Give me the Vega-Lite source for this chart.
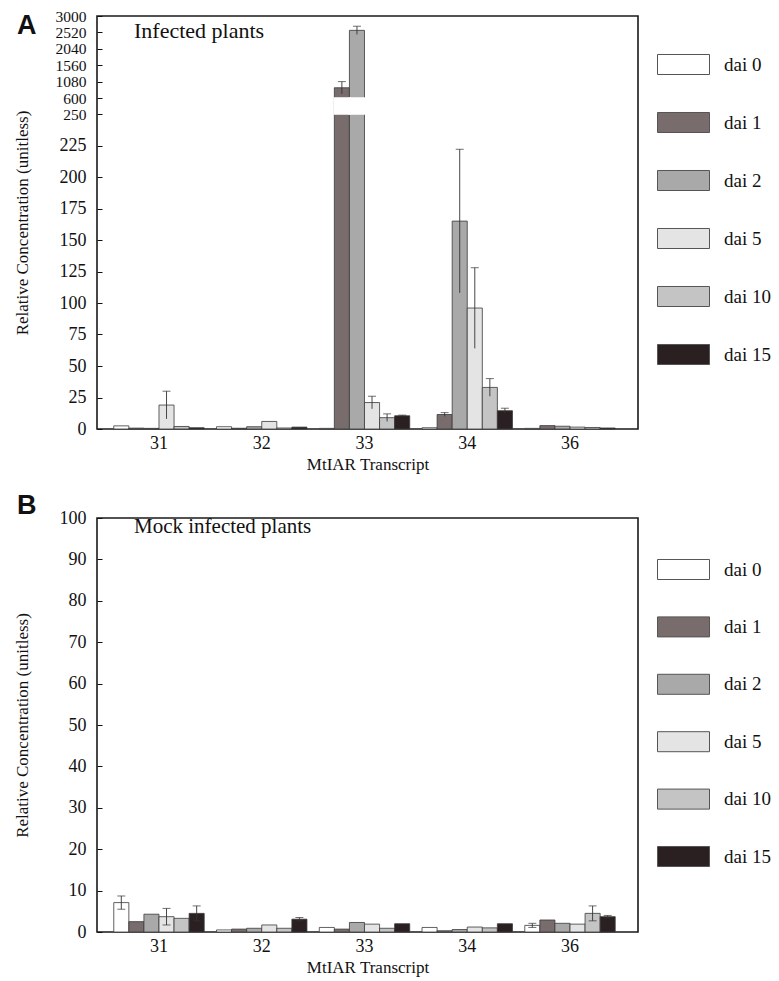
{
  "$schema": "https://vega.github.io/schema/vega-lite/v6.json",
  "padding": {"left": 12, "top": 8, "right": 5, "bottom": 5},
  "background": "white",
  "config": {
    "font": "Liberation Serif",
    "view": {"stroke": "#1a1a1a", "strokeWidth": 1.6},
    "axis": {"labelFont": "Liberation Serif", "titleFont": "Liberation Serif", "labelFontSize": 18, "titleFontSize": 17, "titleFontWeight": "normal", "labelColor": "#111", "titleColor": "#111", "domain": false, "grid": false, "tickColor": "#111"},
    "axisY": {"offset": -5, "tickSize": 5, "tickWidth": 1, "labelPadding": 11, "minExtent": 48, "maxExtent": 48, "titlePadding": 23, "labelOverlap": false, "labelBound": false, "labelFlush": false, "format": "d", "tickCount": 40},
    "axisX": {"ticks": false, "labelAngle": 0, "labelPadding": 5, "titlePadding": 4},
    "legend": {"orient": "none", "title": null, "symbolType": "M-1,-0.385H1V0.385H-1Z", "symbolSize": 2704, "symbolStrokeColor": "#555", "symbolStrokeWidth": 1, "labelFont": "Liberation Serif", "labelFontSize": 19, "labelColor": "#111", "labelOffset": 14, "padding": 0, "symbolOpacity": 1}
  },
  "datasets": {
    "a": [
      {"t": "31", "dai": "dai 0", "value": 2.5},
      {"t": "31", "dai": "dai 1", "value": 0.7},
      {"t": "31", "dai": "dai 2", "value": 0.5},
      {"t": "31", "dai": "dai 5", "value": 19, "lo": 8, "hi": 30},
      {"t": "31", "dai": "dai 10", "value": 2.0},
      {"t": "31", "dai": "dai 15", "value": 1.0},
      {"t": "32", "dai": "dai 0", "value": 1.8},
      {"t": "32", "dai": "dai 1", "value": 0.6},
      {"t": "32", "dai": "dai 2", "value": 1.8},
      {"t": "32", "dai": "dai 5", "value": 6.0},
      {"t": "32", "dai": "dai 10", "value": 0.8},
      {"t": "32", "dai": "dai 15", "value": 1.5},
      {"t": "33", "dai": "dai 0", "value": 0.5},
      {"t": "33", "dai": "dai 1", "value": 900, "lo": 720, "hi": 1080},
      {"t": "33", "dai": "dai 2", "value": 2580, "lo": 2460, "hi": 2700},
      {"t": "33", "dai": "dai 5", "value": 21, "lo": 16, "hi": 26},
      {"t": "33", "dai": "dai 10", "value": 9, "lo": 6, "hi": 12},
      {"t": "33", "dai": "dai 15", "value": 10.5, "lo": 10, "hi": 11},
      {"t": "34", "dai": "dai 0", "value": 1.0},
      {"t": "34", "dai": "dai 1", "value": 11.5, "lo": 10, "hi": 13},
      {"t": "34", "dai": "dai 2", "value": 165, "lo": 108, "hi": 222},
      {"t": "34", "dai": "dai 5", "value": 96, "lo": 64, "hi": 128},
      {"t": "34", "dai": "dai 10", "value": 33, "lo": 26, "hi": 40},
      {"t": "34", "dai": "dai 15", "value": 14.5, "lo": 12.5, "hi": 16.5},
      {"t": "36", "dai": "dai 0", "value": 0.5},
      {"t": "36", "dai": "dai 1", "value": 2.7},
      {"t": "36", "dai": "dai 2", "value": 2.2},
      {"t": "36", "dai": "dai 5", "value": 1.5},
      {"t": "36", "dai": "dai 10", "value": 1.2},
      {"t": "36", "dai": "dai 15", "value": 0.8}
    ],
    "b": [
      {"t": "31", "dai": "dai 0", "value": 7.1, "lo": 5.5, "hi": 8.7},
      {"t": "31", "dai": "dai 1", "value": 2.5},
      {"t": "31", "dai": "dai 2", "value": 4.3},
      {"t": "31", "dai": "dai 5", "value": 3.7, "lo": 1.7, "hi": 5.7},
      {"t": "31", "dai": "dai 10", "value": 3.3},
      {"t": "31", "dai": "dai 15", "value": 4.5, "lo": 2.7, "hi": 6.3},
      {"t": "32", "dai": "dai 0", "value": 0.5},
      {"t": "32", "dai": "dai 1", "value": 0.7},
      {"t": "32", "dai": "dai 2", "value": 0.9},
      {"t": "32", "dai": "dai 5", "value": 1.7},
      {"t": "32", "dai": "dai 10", "value": 0.9},
      {"t": "32", "dai": "dai 15", "value": 3.1, "lo": 2.7, "hi": 3.5},
      {"t": "33", "dai": "dai 0", "value": 1.1},
      {"t": "33", "dai": "dai 1", "value": 0.7},
      {"t": "33", "dai": "dai 2", "value": 2.3},
      {"t": "33", "dai": "dai 5", "value": 1.9},
      {"t": "33", "dai": "dai 10", "value": 0.9},
      {"t": "33", "dai": "dai 15", "value": 2.0},
      {"t": "34", "dai": "dai 0", "value": 1.1},
      {"t": "34", "dai": "dai 1", "value": 0.3},
      {"t": "34", "dai": "dai 2", "value": 0.6},
      {"t": "34", "dai": "dai 5", "value": 1.2},
      {"t": "34", "dai": "dai 10", "value": 1.0},
      {"t": "34", "dai": "dai 15", "value": 2.0},
      {"t": "36", "dai": "dai 0", "value": 1.6, "lo": 1.1, "hi": 2.1},
      {"t": "36", "dai": "dai 1", "value": 2.9},
      {"t": "36", "dai": "dai 2", "value": 2.1},
      {"t": "36", "dai": "dai 5", "value": 1.9},
      {"t": "36", "dai": "dai 10", "value": 4.5, "lo": 2.7, "hi": 6.3},
      {"t": "36", "dai": "dai 15", "value": 3.7, "lo": 3.4, "hi": 4.0}
    ]
  },
  "vconcat": [
    {
      "width": 541,
      "height": 413,
      "title": {"text": "A", "anchor": "start", "frame": "bounds", "font": "Liberation Sans", "fontWeight": "bold", "fontSize": 27, "offset": -31, "dx": 4, "color": "#111"},
      "data": {"name": "a"},
      "layer": [
        {
          "mark": {"type": "bar", "stroke": "#3a3a3a", "strokeWidth": 0.8},
          "encoding": {
            "x": {"field": "t", "type": "nominal", "scale": {"paddingInner": 0.12, "paddingOuter": 0.1925, "align": 0.424}, "axis": {"title": "MtIAR Transcript"}},
            "xOffset": {"field": "dai", "type": "nominal", "sort": ["dai 0", "dai 1", "dai 2", "dai 5", "dai 10", "dai 15"], "scale": {"paddingInner": 0, "paddingOuter": 0}},
            "y": {"field": "value", "type": "quantitative", "scale": {"domain": [0, 250, 600, 3000], "range": [413, 98, 82, 0], "nice": false, "zero": false}, "axis": {"title": "Relative Concentration (unitless)", "labelOverlap": false, "tickCount": 40, "format": "d", "labelFontSize": {"condition": {"test": "datum.value >= 250", "value": 15.5}, "value": 18}, "values": [0, 25, 50, 75, 100, 125, 150, 175, 200, 225, 250, 600, 1080, 1560, 2040, 2520, 3000]}},
            "color": {"field": "dai", "type": "nominal", "sort": ["dai 0", "dai 1", "dai 2", "dai 5", "dai 10", "dai 15"], "scale": {"domain": ["dai 0", "dai 1", "dai 2", "dai 5", "dai 10", "dai 15"], "range": ["#ffffff", "#786c6d", "#a9a9a9", "#e4e4e4", "#c4c4c4", "#2a2021"]}, "legend": {"legendX": 560, "legendY": 22, "rowPadding": 19}}
          }
        },
        {
          "transform": [{"filter": "datum.value > 250"}],
          "mark": {"type": "bar", "color": "white", "stroke": "white", "strokeWidth": 1.5},
          "encoding": {
            "x": {"field": "t", "type": "nominal"},
            "xOffset": {"field": "dai", "type": "nominal", "sort": ["dai 0", "dai 1", "dai 2", "dai 5", "dai 10", "dai 15"]},
            "y": {"datum": 600},
            "y2": {"datum": 250}
          }
        },
        {
          "transform": [{"filter": "isValid(datum.hi)"}],
          "mark": {"type": "rule", "color": "#333", "strokeWidth": 0.9},
          "encoding": {
            "x": {"field": "t", "type": "nominal"},
            "xOffset": {"field": "dai", "type": "nominal", "sort": ["dai 0", "dai 1", "dai 2", "dai 5", "dai 10", "dai 15"]},
            "y": {"field": "lo", "type": "quantitative"},
            "y2": {"field": "hi"}
          }
        },
        {
          "transform": [{"filter": "isValid(datum.hi)"}],
          "mark": {"type": "tick", "color": "#333", "thickness": 1, "size": 8},
          "encoding": {
            "x": {"field": "t", "type": "nominal"},
            "xOffset": {"field": "dai", "type": "nominal", "sort": ["dai 0", "dai 1", "dai 2", "dai 5", "dai 10", "dai 15"]},
            "y": {"field": "hi", "type": "quantitative"}
          }
        },
        {
          "data": {"values": [{"label": "Infected plants"}]},
          "mark": {"type": "text", "align": "left", "baseline": "middle", "font": "Liberation Serif", "fontSize": 22, "dx": -25, "color": "#111"},
          "encoding": {
            "x": {"datum": "31"},
            "y": {"datum": 2560},
            "text": {"field": "label"}
          }
        }
      ]
    },
    {
      "width": 541,
      "height": 414,
      "title": {"text": "B", "anchor": "start", "frame": "bounds", "font": "Liberation Sans", "fontWeight": "bold", "fontSize": 27, "offset": -11, "dx": 4, "color": "#111"},
      "data": {"name": "b"},
      "layer": [
        {
          "mark": {"type": "bar", "stroke": "#3a3a3a", "strokeWidth": 0.8},
          "encoding": {
            "x": {"field": "t", "type": "nominal", "scale": {"paddingInner": 0.12, "paddingOuter": 0.1925, "align": 0.424}, "axis": {"title": "MtIAR Transcript"}},
            "xOffset": {"field": "dai", "type": "nominal", "sort": ["dai 0", "dai 1", "dai 2", "dai 5", "dai 10", "dai 15"], "scale": {"paddingInner": 0, "paddingOuter": 0}},
            "y": {"field": "value", "type": "quantitative", "scale": {"domain": [0, 100], "nice": false, "zero": true}, "axis": {"title": "Relative Concentration (unitless)", "labelOverlap": false, "tickCount": 40, "format": "d", "values": [0, 10, 20, 30, 40, 50, 60, 70, 80, 90, 100]}},
            "color": {"field": "dai", "type": "nominal", "sort": ["dai 0", "dai 1", "dai 2", "dai 5", "dai 10", "dai 15"], "scale": {"domain": ["dai 0", "dai 1", "dai 2", "dai 5", "dai 10", "dai 15"], "range": ["#ffffff", "#786c6d", "#a9a9a9", "#e4e4e4", "#c4c4c4", "#2a2021"]}, "legend": {"legendX": 560, "legendY": 25, "rowPadding": 18.4}}
          }
        },
        {
          "transform": [{"filter": "isValid(datum.hi)"}],
          "mark": {"type": "rule", "color": "#333", "strokeWidth": 0.9},
          "encoding": {
            "x": {"field": "t", "type": "nominal"},
            "xOffset": {"field": "dai", "type": "nominal", "sort": ["dai 0", "dai 1", "dai 2", "dai 5", "dai 10", "dai 15"]},
            "y": {"field": "lo", "type": "quantitative"},
            "y2": {"field": "hi"}
          }
        },
        {
          "transform": [{"filter": "isValid(datum.hi)"}],
          "mark": {"type": "tick", "color": "#333", "thickness": 1, "size": 8},
          "encoding": {
            "x": {"field": "t", "type": "nominal"},
            "xOffset": {"field": "dai", "type": "nominal", "sort": ["dai 0", "dai 1", "dai 2", "dai 5", "dai 10", "dai 15"]},
            "y": {"field": "hi", "type": "quantitative"}
          }
        },
        {
          "transform": [{"filter": "isValid(datum.hi)"}],
          "mark": {"type": "tick", "color": "#333", "thickness": 1, "size": 8},
          "encoding": {
            "x": {"field": "t", "type": "nominal"},
            "xOffset": {"field": "dai", "type": "nominal", "sort": ["dai 0", "dai 1", "dai 2", "dai 5", "dai 10", "dai 15"]},
            "y": {"field": "lo", "type": "quantitative"}
          }
        },
        {
          "data": {"values": [{"label": "Mock infected plants"}]},
          "mark": {"type": "text", "align": "left", "baseline": "middle", "font": "Liberation Serif", "fontSize": 21, "dx": -25, "color": "#111"},
          "encoding": {
            "x": {"datum": "31"},
            "y": {"datum": 97.8},
            "text": {"field": "label"}
          }
        }
      ]
    }
  ],
  "spacing": 18,
  "resolve": {"scale": {"color": "independent", "x": "independent", "y": "independent", "xOffset": "independent"}, "legend": {"color": "independent"}}
}
